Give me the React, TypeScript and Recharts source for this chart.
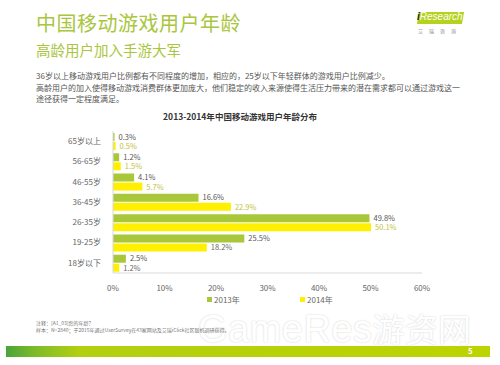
import React from "react";
import { BarChart, Bar, XAxis, YAxis, LabelList } from "recharts";

const categories = ["65岁以上", "56-65岁", "46-55岁", "36-45岁", "26-35岁", "19-25岁", "18岁以下"];
const values2013 = [0.3, 1.2, 4.1, 16.6, 49.8, 25.5, 2.5];
const values2014 = [0.5, 1.5, 5.7, 22.9, 50.1, 18.2, 1.2];
const xTicks = [0, 10, 20, 30, 40, 50, 60];
const seriesNames = ["2013年", "2014年"];

const data = categories.map((c, i) => ({ name: c, y2013: values2013[i], y2014: values2014[i] }));

const C2013 = "#a8c83a";
const C2014 = "#fff000";
const CJK = '"Noto Sans CJK SC", "Noto Sans", sans-serif';

const label2014Colors = ["#c3c23a", "#c3c23a", "#c3c23a", "#c3c23a", "#c3c23a", "#666", "#666"];

const Label2014 = (props: any) => {
  const { x, y, width, height, value, index } = props;
  return (
    <text x={x + width + 4} y={y + height / 2 + 3} fontSize={7.5} fill={label2014Colors[index]} fontFamily={CJK}>
      {value}%
    </text>
  );
};
const Label2013 = (props: any) => {
  const { x, y, width, height, value } = props;
  return (
    <text x={x + width + 4} y={y + height / 2 + 2.5} fontSize={7.5} fill="#555" fontFamily={CJK}>
      {value}%
    </text>
  );
};

export default function App() {
  return (
    <div style={{ position: "absolute", left: 0, top: 0, width: 500, height: 365, background: "#fff", overflow: "hidden", fontFamily: CJK }}>
      <div style={{ position: "absolute", left: 36, top: 8, fontSize: 20, color: "#a9c63e", letterSpacing: 0.5 }}>中国移动游戏用户年龄</div>
      <div style={{ position: "absolute", left: 36, top: 39, fontSize: 14.5, color: "#a9c63e" }}>高龄用户加入手游大军</div>
      <div style={{ position: "absolute", left: 418, top: 12, width: 45, height: 12, background: "#b5d21e", transform: "skewX(-10deg)" }} />
      <div style={{ position: "absolute", left: 417, top: 11, fontSize: 10, color: "#fff", fontFamily: "Arial, Liberation Sans, sans-serif", fontStyle: "italic" }}>
        <span style={{ color: "#222", fontWeight: "bold" }}>i</span>Research
      </div>
      <div style={{ position: "absolute", left: 418, top: 27, fontSize: 5, color: "#888", letterSpacing: 6 }}>艾瑞咨询</div>

      <div style={{ position: "absolute", left: 36, top: 70, fontSize: 8, color: "#555", lineHeight: "11.5px", width: 430 }}>
        <div>36岁以上移动游戏用户比例都有不同程度的增加，相应的，25岁以下年轻群体的游戏用户比例减少。</div>
        <div>高龄用户的加入使得移动游戏消费群体更加庞大，他们稳定的收入来源使得生活压力带来的潜在需求都可以通过游戏这一</div>
        <div>途径获得一定程度满足。</div>
      </div>
      <div style={{ position: "absolute", left: 0, width: 480, top: 110, textAlign: "center", fontSize: 8.5, fontWeight: "bold", color: "#333" }}>
        2013-2014年中国移动游戏用户年龄分布
      </div>

      <div style={{ position: "absolute", left: 198, top: 310, fontSize: 38, lineHeight: "38px", fontFamily: "Arial, Liberation Sans, sans-serif", color: "#fff", textShadow: "0 0 2px #cfcfcf", letterSpacing: 0.5 }}>
        GameRes
      </div>
      <div style={{ position: "absolute", left: 372, top: 310, fontSize: 33, lineHeight: "36px", color: "#fff", textShadow: "0 0 2px #cfcfcf" }}>游资网</div>

      <div style={{ position: "absolute", left: 0, top: 0 }}>
        <BarChart
          width={500}
          height={365}
          data={data}
          layout="vertical"
          margin={{ top: 131, right: 78, bottom: 72, left: 43 }}
          barSize={8}
          barGap={1}
        >
          <XAxis
            type="number"
            domain={[0, 60]}
            ticks={xTicks}
            tickFormatter={(v: number) => `${v}%`}
            axisLine={{ stroke: "#d9d9d9" }}
            tickLine={false}
            tick={{ fontSize: 8, fill: "#666", fontFamily: CJK }}
            tickMargin={6}
            height={20}
            interval={0}
          />
          <YAxis
            type="category"
            dataKey="name"
            width={70}
            axisLine={{ stroke: "#d9d9d9" }}
            tickLine={false}
            tick={{ fontSize: 8, fill: "#666", fontFamily: CJK }}
            tickMargin={6}
            interval={0}
          />
          <Bar dataKey="y2013" name={seriesNames[0]} fill={C2013} isAnimationActive={false}>
            <LabelList dataKey="y2013" content={Label2013} />
          </Bar>
          <Bar dataKey="y2014" name={seriesNames[1]} fill={C2014} isAnimationActive={false}>
            <LabelList dataKey="y2014" content={Label2014} />
          </Bar>
        </BarChart>
      </div>

      <div style={{ position: "absolute", left: 207, top: 294, fontSize: 8, color: "#666", display: "flex", alignItems: "center" }}>
        <span style={{ display: "inline-block", width: 5, height: 5, background: C2013, marginRight: 2 }} />
        {seriesNames[0]}
      </div>
      <div style={{ position: "absolute", left: 300, top: 294, fontSize: 8, color: "#666", display: "flex", alignItems: "center" }}>
        <span style={{ display: "inline-block", width: 5, height: 5, background: C2014, marginRight: 2 }} />
        {seriesNames[1]}
      </div>

      <div style={{ position: "absolute", left: 36, top: 320, fontSize: 5, color: "#777", lineHeight: "6.5px" }}>
        <div>注释：[A1_03]您的年龄？</div>
        <div>样本：N=2840；于2015年通过UserSurvey在43家网站及艾瑞iClick社区联机调研获得。</div>
      </div>

      <div style={{ position: "absolute", left: 6, top: 346, width: 484, height: 11, background: "linear-gradient(90deg, #4aa43a 0%, #7dbb2a 6%, #b2cf10 15%, #bcd400 100%)" }} />
      <div style={{ position: "absolute", left: 468, top: 345, fontSize: 8, color: "#fff", fontWeight: "bold" }}>5</div>
    </div>
  );
}
